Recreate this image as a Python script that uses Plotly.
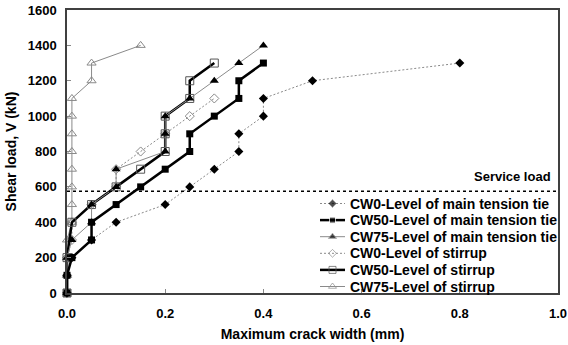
import plotly.graph_objects as go

# ---- data ----
cw0_main_x = [0, 0, 0.01, 0.05, 0.1, 0.2, 0.25, 0.3, 0.35, 0.35, 0.4, 0.4, 0.5, 0.8]
cw0_main_y = [0, 100, 200, 300, 400, 500, 600, 700, 800, 900, 1000, 1100, 1200, 1300]

cw50_main_x = [0, 0, 0.01, 0.05, 0.05, 0.1, 0.15, 0.2, 0.25, 0.25, 0.3, 0.35, 0.35, 0.4]
cw50_main_y = [0, 100, 200, 300, 400, 500, 600, 700, 800, 900, 1000, 1100, 1200, 1300]

cw75_main_x = [0, 0, 0, 0.01, 0.05, 0.05, 0.1, 0.1, 0.2, 0.2, 0.2, 0.25, 0.3, 0.35, 0.4]
cw75_main_y = [0, 100, 200, 300, 400, 500, 600, 700, 800, 900, 1000, 1100, 1200, 1300, 1400]

cw0_stir_x = [0, 0, 0, 0.01, 0.01, 0.05, 0.1, 0.1, 0.15, 0.2, 0.25, 0.3]
cw0_stir_y = [0, 100, 200, 300, 400, 500, 600, 700, 800, 900, 1000, 1100]

cw50_stir_x = [0, 0, 0.01, 0.05, 0.1, 0.15, 0.2, 0.2, 0.2, 0.25, 0.25, 0.3]
cw50_stir_y = [0, 200, 400, 500, 600, 700, 800, 900, 1000, 1100, 1200, 1300]

cw75_stir_x = [0, 0, 0, 0, 0.01, 0.01, 0.01, 0.01, 0.01, 0.01, 0.01, 0.01, 0.05, 0.05, 0.15]
cw75_stir_y = [0, 100, 200, 300, 400, 500, 600, 700, 800, 900, 1000, 1100, 1200, 1300, 1400]

service_load = 575

names = ["CW0-Level of main tension tie", "CW50-Level of main tension tie",
         "CW75-Level of main tension tie", "CW0-Level of stirrup",
         "CW50-Level of stirrup", "CW75-Level of stirrup"]

GRAY = "#8a8a8a"
FONT = "Liberation Sans, Arial"

styles = [
    dict(line=dict(color=GRAY, width=1, dash="2px,2px"),
         marker=dict(symbol="diamond", size=7, color="black")),
    dict(line=dict(color="black", width=2.5),
         marker=dict(symbol="square", size=7, color="black")),
    dict(line=dict(color=GRAY, width=1),
         marker=dict(symbol="triangle-up", size=8, color="black")),
    dict(line=dict(color=GRAY, width=1, dash="2px,2px"),
         marker=dict(symbol="diamond-open", size=7, color=GRAY, line=dict(width=1))),
    dict(line=dict(color="black", width=2.5),
         marker=dict(symbol="square-open", size=8, color="#555555", line=dict(width=1))),
    dict(line=dict(color=GRAY, width=1),
         marker=dict(symbol="triangle-up-open", size=8, color=GRAY, line=dict(width=1))),
]
series = [(cw0_main_x, cw0_main_y), (cw50_main_x, cw50_main_y), (cw75_main_x, cw75_main_y),
          (cw0_stir_x, cw0_stir_y), (cw50_stir_x, cw50_stir_y), (cw75_stir_x, cw75_stir_y)]

fig = go.Figure()
# draw order: stirrups underneath, then main ties
for i in [5, 3, 4, 0, 2, 1]:
    xs, ys = series[i]
    fig.add_trace(go.Scatter(x=xs, y=ys, name=names[i], mode="lines+markers",
                             showlegend=False, cliponaxis=False, **styles[i]))

fig.add_shape(type="line", xref="x", yref="y", x0=0, x1=1, y0=service_load, y1=service_load,
              line=dict(color="black", width=1.5, dash="3px,3px"))
fig.add_annotation(x=0.99, y=service_load, xref="x", yref="y", text="<b>Service load</b>",
                   showarrow=False, xanchor="right", yanchor="bottom", yshift=5,
                   font=dict(family=FONT, size=13, color="black"))

# ---- legend drawn inside the plot (overlay axes in 0..1 units) ----
PLOT_L, PLOT_R, PLOT_T, PLOT_B = 67, 558, 10, 293
def px_x(p):
    return (p - PLOT_L) / (PLOT_R - PLOT_L)
def px_y(p):
    return (PLOT_B - p) / (PLOT_B - PLOT_T)

row0, row_step = 203.5, 16.6
sym_l, sym_r, text_l = 320, 345, 348
for i, name in enumerate(names):
    ry = px_y(row0 + i * row_step)
    fig.add_trace(go.Scatter(
        x=[px_x(sym_l), px_x((sym_l + sym_r) / 2), px_x(sym_r)], y=[ry, ry, ry],
        xaxis="x2", yaxis="y2", mode="lines+markers", showlegend=False, hoverinfo="skip",
        line=styles[i]["line"],
        marker={**styles[i]["marker"], "size": [0, styles[i]["marker"]["size"] - 1, 0]}))
    fig.add_annotation(x=px_x(text_l), y=ry, xref="x2", yref="y2", text=f"<b>{name}</b>",
                       showarrow=False, xanchor="left", yanchor="middle",
                       font=dict(family=FONT, size=14, color="black"))

tickfont = dict(family=FONT, size=13, color="black", weight="bold")
fig.update_layout(
    width=568, height=345,
    margin=dict(l=PLOT_L, r=568 - PLOT_R, t=PLOT_T, b=345 - PLOT_B, autoexpand=False),
    paper_bgcolor="white", plot_bgcolor="white",
    font=dict(family=FONT, color="black"),
    showlegend=False,
    xaxis=dict(range=[0, 1], tickvals=[0, 0.2, 0.4, 0.6, 0.8, 1.0],
               ticktext=["0.0", "0.2", "0.4", "0.6", "0.8", "1.0"],
               showgrid=False, zeroline=False, ticks="inside", ticklen=4, tickcolor="#888888",
               showline=True, mirror=True, linecolor="#404040", linewidth=1.5,
               tickfont=tickfont, ticklabelstandoff=8, automargin=False,
               ticklabeloverflow="allow",
               title=dict(text="<b>Maximum crack width (mm)</b>", standoff=9,
                          font=dict(family=FONT, size=14, color="black"))),
    yaxis=dict(range=[0, 1600], tickvals=[0, 200, 400, 600, 800, 1000, 1200, 1400, 1600],
               showgrid=False, zeroline=False, ticks="inside", ticklen=4, tickcolor="#888888",
               showline=True, mirror=True, linecolor="#404040", linewidth=1.5,
               tickfont=tickfont, ticklabelstandoff=6, automargin=False,
               ticklabeloverflow="allow",
               title=dict(text="<b>Shear load, V (kN)</b>", standoff=8,
                          font=dict(family=FONT, size=14, color="black"))),
    xaxis2=dict(range=[0, 1], overlaying="x", visible=False, fixedrange=True),
    yaxis2=dict(range=[0, 1], overlaying="y", visible=False, fixedrange=True),
)

fig.write_html("out.html")
